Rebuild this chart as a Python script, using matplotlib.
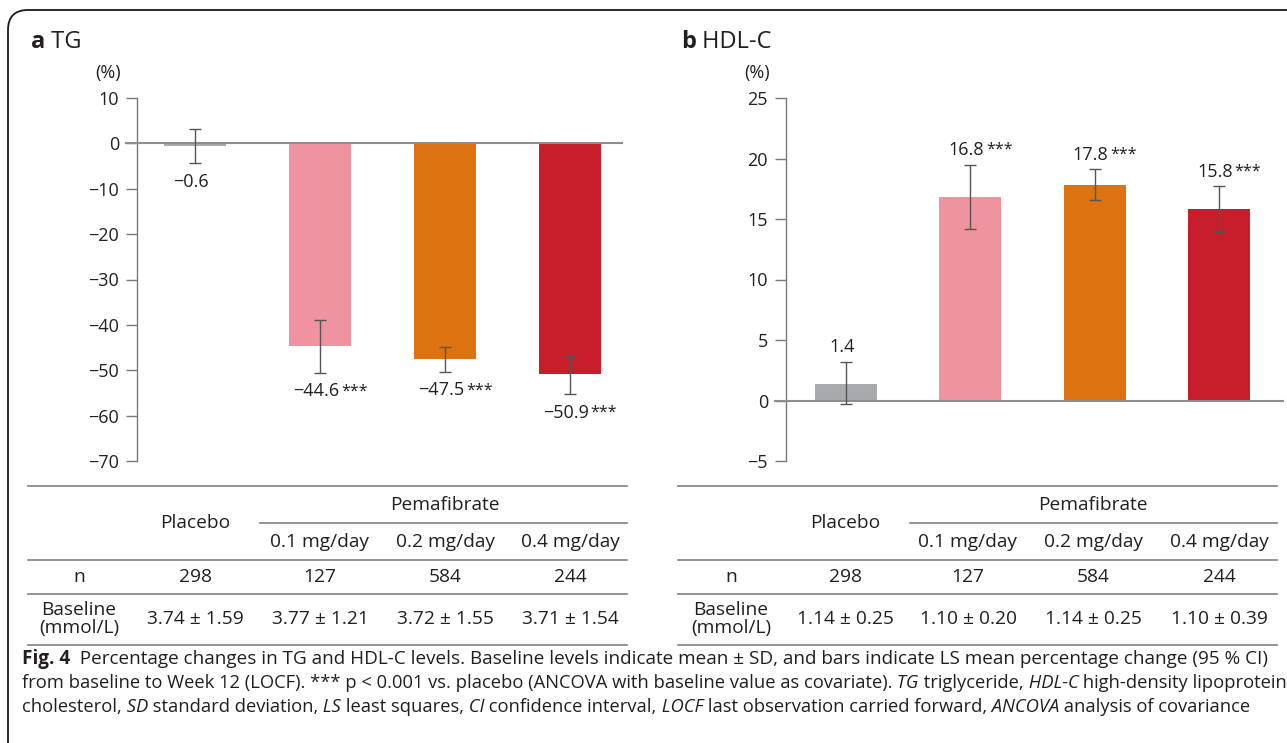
import matplotlib
matplotlib.use('Agg')
import matplotlib.pyplot as plt
import matplotlib.transforms as mtransforms
from matplotlib.patches import FancyBboxPatch
from matplotlib.lines import Line2D

# ---------------- data ----------------
groups = ['Placebo', '0.1 mg/day', '0.2 mg/day', '0.4 mg/day']
bar_colors = ['#A9AAAD', '#F093A0', '#DC7210', '#C81E2B']

tg_mean = [-0.6, -44.6, -47.5, -50.9]
tg_ci_low = [-4.4, -50.5, -50.3, -55.3]
tg_ci_high = [3.1, -39.0, -44.9, -46.9]
tg_sig = ['', '***', '***', '***']
tg_yticks = [10, 0, -10, -20, -30, -40, -50, -60, -70]
tg_n = ['298', '127', '584', '244']
tg_baseline = ['3.74 ± 1.59', '3.77 ± 1.21', '3.72 ± 1.55', '3.71 ± 1.54']

hdl_mean = [1.4, 16.8, 17.8, 15.8]
hdl_ci_low = [-0.3, 14.2, 16.6, 13.9]
hdl_ci_high = [3.2, 19.5, 19.1, 17.7]
hdl_sig = ['', '***', '***', '***']
hdl_yticks = [25, 20, 15, 10, 5, 0, -5]
hdl_n = ['298', '127', '584', '244']
hdl_baseline = ['1.14 ± 0.25', '1.10 ± 0.20', '1.14 ± 0.25', '1.10 ± 0.39']

caption_lines = [
    [("Fig. 4", 'bold'), ("  Percentage changes in TG and HDL-C levels. Baseline levels indicate mean ± SD, and bars indicate LS mean percentage change (95 % CI)", 'normal')],
    [("from baseline to Week 12 (LOCF). *** p < 0.001 vs. placebo (ANCOVA with baseline value as covariate).", 'normal'),
     (" TG", 'italic'), (" triglyceride,", 'normal'), (" HDL-C", 'italic'), (" high-density lipoprotein", 'normal')],
    [("cholesterol,", 'normal'), (" SD", 'italic'), (" standard deviation,", 'normal'), (" LS", 'italic'),
     (" least squares,", 'normal'), (" CI", 'italic'), (" confidence interval,", 'normal'), (" LOCF", 'italic'),
     (" last observation carried forward,", 'normal'), (" ANCOVA", 'italic'), (" analysis of covariance", 'normal')],
]
caption_right = [1262, 1282, 1245]

# ---------------- style ----------------
FONT = 'Open Sans'
plt.rcParams['font.family'] = [FONT, 'DejaVu Sans']
TXT = '#231F20'
AXC = '#7A7A7A'
W, H = 1287, 743
DPI = 100
fig = plt.figure(figsize=(W / DPI, H / DPI), dpi=DPI)
fig.patch.set_facecolor('white')


def fx(x):
    return x / W


def fy(y):
    return 1 - y / H


def hline(x0, x1, y, lw=1.2, color='#808080'):
    fig.add_artist(Line2D([fx(x0), fx(x1)], [fy(y), fy(y)], transform=fig.transFigure,
                          color=color, lw=lw))


# frame (rounded box running off the right and bottom)
frame = FancyBboxPatch((8, -30), 1320, H - 10 + 30, boxstyle="round,pad=0,rounding_size=20",
                       transform=mtransforms.IdentityTransform(), fill=False, lw=1.3, ec='#1a1a1a')
fig.add_artist(frame)

renderer = fig.canvas.get_renderer()


def draw_segments(segs, x, y, size, va='center'):
    cur = x
    arts = []
    for s, style in segs:
        kw = {}
        if style == 'bold':
            kw['fontweight'] = 'bold'
        elif style == 'italic':
            kw['fontstyle'] = 'italic'
        t = fig.text(fx(cur), fy(y), s, fontsize=size, color=TXT, ha='left', va=va, **kw)
        bb = t.get_window_extent(renderer)
        cur = bb.x1
        arts.append(t)
    return arts, cur


def panel(left, right, top, bottom, x0px, spacing, ylim, yticks, mean, lo, hi, sig, below):
    ax = fig.add_axes([fx(left), fy(bottom), fx(right - left), (bottom - top) / H])
    xs = list(range(len(mean)))
    ax.set_xlim((left - x0px) / spacing, (right - x0px) / spacing)
    ax.set_ylim(*ylim)
    ax.patch.set_alpha(0)
    ax.bar(xs, mean, width=62 / spacing, color=bar_colors, edgecolor='none', zorder=2)
    ax.axhline(0, xmin=-11 / (right - left), xmax=1, color='#8E8E8E', lw=1.5, clip_on=False, zorder=3)
    yerr = [[m - l for m, l in zip(mean, lo)], [h - m for m, h in zip(mean, hi)]]
    ax.errorbar(xs, mean, yerr=yerr, fmt='none', ecolor='#555555', elinewidth=1.0,
                capsize=4.3, capthick=1.0, zorder=4)
    for s in ['top', 'right', 'bottom']:
        ax.spines[s].set_visible(False)
    ax.spines['left'].set_color(AXC)
    ax.spines['left'].set_linewidth(1.0)
    ax.set_xticks([])
    ax.set_yticks(yticks)
    ax.tick_params(axis='y', length=8, width=1.0, color=AXC, labelsize=13, labelcolor=TXT, pad=5)
    labels = []
    for i, m in enumerate(mean):
        txt = f"{m:.1f}".replace('-', '\u2212')
        if below:
            t = ax.annotate(txt, xy=(i, lo[i]), xytext=(-3, -7), textcoords='offset points',
                            ha='center', va='top', fontsize=13, color=TXT)
        else:
            t = ax.annotate(txt, xy=(i, hi[i]), xytext=(-3, 4), textcoords='offset points',
                            ha='center', va='bottom', fontsize=13, color=TXT)
        labels.append((t, sig[i]))
    return ax, labels


ax_a, lab_a = panel(137, 622, 98, 461, 195, 125.0, (-70, 10), tg_yticks,
                    tg_mean, tg_ci_low, tg_ci_high, tg_sig, True)
ax_b, lab_b = panel(786, 1283, 98, 461, 846, 124.3, (-5, 25), hdl_yticks,
                    hdl_mean, hdl_ci_low, hdl_ci_high, hdl_sig, False)

fig.canvas.draw()
renderer = fig.canvas.get_renderer()
for t, s in lab_a + lab_b:
    if s:
        bb = t.get_window_extent(renderer)
        fig.text(bb.x1 + 2, bb.y1 - 1.0, s, transform=mtransforms.IdentityTransform(),
                 ha='left', va='top', fontsize=11.5, color=TXT)

# titles
draw_segments([("a", 'bold'), (" TG", 'normal')], 31, 42, 17)
draw_segments([("b", 'bold'), (" HDL-C", 'normal')], 681, 42, 17)
fig.text(fx(108), fy(73), "(%)", ha='center', va='center', fontsize=13, color=TXT)
fig.text(fx(757), fy(73), "(%)", ha='center', va='center', fontsize=13, color=TXT)


# tables
def table(x0, x1, sub_x0, label_x, cols, n_vals, base_vals):
    for y in (486, 560, 594, 645):
        hline(x0, x1, y)
    hline(sub_x0, x1, 523)
    fs = 13.8
    fig.text(fx(cols[0]), fy(523), groups[0], ha='center', va='center', fontsize=fs, color=TXT)
    fig.text(fx(sum(cols[1:]) / 3), fy(505), 'Pemafibrate', ha='center', va='center', fontsize=fs, color=TXT)
    for c, g in zip(cols[1:], groups[1:]):
        fig.text(fx(c), fy(542), g, ha='center', va='center', fontsize=fs, color=TXT)
    fig.text(fx(label_x), fy(577), 'n', ha='center', va='center', fontsize=fs, color=TXT)
    fig.text(fx(label_x), fy(619), 'Baseline\n(mmol/L)', ha='center', va='center', fontsize=fs,
             color=TXT, linespacing=1.05)
    for c, nv, bv in zip(cols, n_vals, base_vals):
        fig.text(fx(c), fy(577), nv, ha='center', va='center', fontsize=fs, color=TXT)
        fig.text(fx(c), fy(619), bv, ha='center', va='center', fontsize=fs, color=TXT)


table(28, 627, 260, 79, [195, 320, 445, 570], tg_n, tg_baseline)
table(678, 1277, 910, 731, [845, 968, 1093, 1219], hdl_n, hdl_baseline)

# caption: fit each line to its width in the reference
for i, segs in enumerate(caption_lines):
    y = 659 + i * 24
    arts, end = draw_segments(segs, 22, y, 12)
    size = 12 * (caption_right[i] - 22) / (end - 22)
    for a in arts:
        a.remove()
    draw_segments(segs, 22, y, size)

fig.savefig('out.png', dpi=DPI, facecolor='white')
